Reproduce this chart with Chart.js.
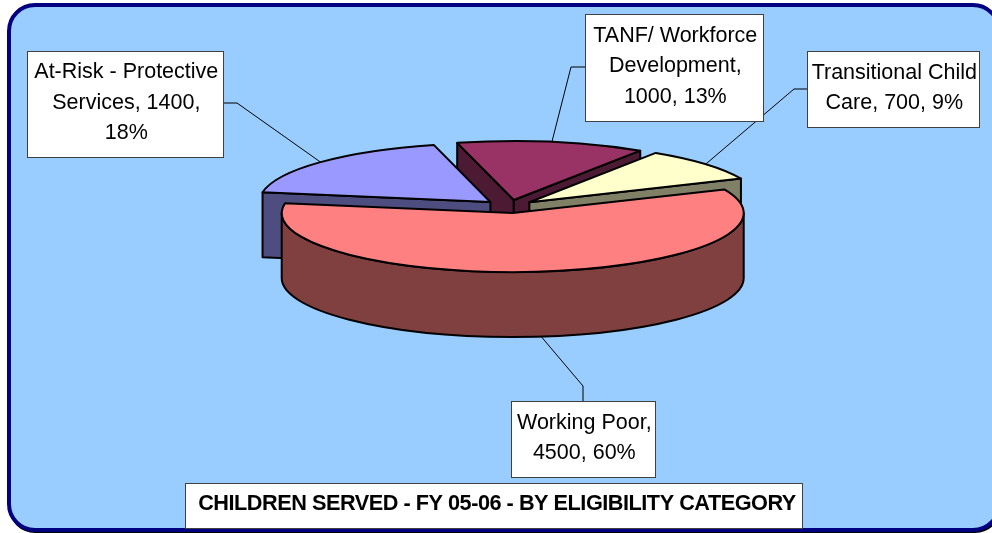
<!DOCTYPE html>
<html>
<head>
<meta charset="utf-8">
<title>Children served</title>
<style>
    html, body { margin: 0; padding: 0; background: #fff; }
    canvas { display: block; }
</style>
<script src="https://cdn.jsdelivr.net/npm/chart.js@4"></script>
</head>
<body>
<canvas id="grafico" width="992" height="533"></canvas>
<script>
// ---------- Dados ----------
const categories = ['At-Risk - Protective Services', 'TANF/ Workforce Development', 'Transitional Child Care', 'Working Poor'];
const values = [1400, 1000, 700, 4500];
const percents = ['18%', '13%', '9%', '60%'];
const topColors = ['#9999FF', '#993366', '#FFFFCC', '#FF8080'];
const sideColors = ['#4D4D80', '#4D1A33', '#808066', '#804040'];
const titleText = 'CHILDREN SERVED - FY 05-06 - BY ELIGIBILITY CATEGORY';

// caixas dos rótulos, uma por fatia (cotovelo = onde a linha dobra)
const labelLines = [
    ['At-Risk - Protective', 'Services, ' + values[0] + ',', percents[0]],
    ['TANF/ Workforce', 'Development,', values[1] + ', ' + percents[1]],
    ['Transitional Child', 'Care, ' + values[2] + ', ' + percents[2]],
    ['Working Poor,', values[3] + ', ' + percents[3]]
];
const labelBoxes = [
    { x: 27, y: 51, w: 196, h: 106, from: [223, 103], elbow: [237, 103] },
    { x: 585, y: 14, w: 178, h: 107, from: [585, 67], elbow: [571, 67] },
    { x: 807, y: 51, w: 172, h: 76, from: [807, 89], elbow: [794, 89] },
    { x: 511, y: 401, w: 144, h: 76, from: [583, 401], elbow: [583, 386] }
];

// "3D" do Excel: achatamento, explosão e altura da pizza
const squash = 0.255;
const explode = 26;
const depth = 65;
const drawOrder = [1, 2, 0, 3]; // de trás para a frente

function ponto(arc, ang, r) {
    const mid = (arc.startAngle + arc.endAngle) / 2;
    return {
        x: arc.x + explode * Math.cos(mid) + r * Math.cos(ang),
        y: arc.y + (explode * Math.sin(mid) + r * Math.sin(ang)) * squash
    };
}

function contorno(ctx) {
    ctx.lineWidth = 2;
    ctx.lineJoin = 'round';
    ctx.strokeStyle = '#000';
    ctx.stroke();
}

function paredeReta(ctx, arc, ang, color) {
    const a = ponto(arc, ang, 0);
    const b = ponto(arc, ang, arc.outerRadius);
    ctx.beginPath();
    ctx.moveTo(a.x, a.y);
    ctx.lineTo(b.x, b.y);
    ctx.lineTo(b.x, b.y + depth);
    ctx.lineTo(a.x, a.y + depth);
    ctx.closePath();
    ctx.fillStyle = color;
    ctx.fill();
    contorno(ctx);
}

// a parte curva só aparece na metade de baixo da elipse
function paredeCurva(ctx, arc, color) {
    const volta = Math.PI * 2;
    const ini = Math.max(arc.startAngle, volta) - volta;
    const fim = Math.min(arc.endAngle, volta + Math.PI) - volta;
    if (fim <= ini) return;
    const c = ponto(arc, 0, 0);
    const rx = arc.outerRadius, ry = rx * squash;
    ctx.beginPath();
    ctx.ellipse(c.x, c.y, rx, ry, 0, ini, fim);
    ctx.ellipse(c.x, c.y + depth, rx, ry, 0, fim, ini, true);
    ctx.closePath();
    ctx.fillStyle = color;
    ctx.fill();
    contorno(ctx);
}

function fatia(ctx, arc, i) {
    if (Math.cos(arc.startAngle) < 0) paredeReta(ctx, arc, arc.startAngle, sideColors[i]);
    if (Math.cos(arc.endAngle) > 0) paredeReta(ctx, arc, arc.endAngle, sideColors[i]);
    paredeCurva(ctx, arc, sideColors[i]);

    // topo: o preenchimento é o próprio arco da biblioteca, achatado
    const c = ponto(arc, 0, 0);
    ctx.save();
    ctx.translate(c.x, c.y);
    ctx.scale(1, squash);
    ctx.translate(-arc.x, -arc.y);
    arc.draw(ctx);
    ctx.beginPath();
    ctx.moveTo(arc.x, arc.y);
    ctx.arc(arc.x, arc.y, arc.outerRadius, arc.startAngle, arc.endAngle);
    ctx.closePath();
    ctx.restore(); // o traço fica fora da escala para não afinar
    contorno(ctx);
}

// ponta da linha do rótulo: meio do arco (a maior sai da parede da frente)
function pontaRotulo(arc) {
    const mid = (arc.startAngle + arc.endAngle) / 2;
    const p = ponto(arc, mid, arc.outerRadius);
    if (Math.sin(mid) > 0) p.y += depth;
    return p;
}

const pizza3d = {
    id: 'pizza3d',
    beforeDraw(chart) {
        const ctx = chart.ctx;
        ctx.save();
        ctx.fillStyle = '#000';
        ctx.beginPath();
        ctx.roundRect(9, 8, 992, 525, 26);
        ctx.fill();
        ctx.fillStyle = '#99CCFF';
        ctx.strokeStyle = '#000080';
        ctx.lineWidth = 4;
        ctx.beginPath();
        ctx.roundRect(9, 5, 990, 525, 26);
        ctx.fill();
        ctx.stroke();
        ctx.restore();
    },
    beforeDatasetDraw(chart, args) {
        const ctx = chart.ctx;
        ctx.save();
        drawOrder.forEach(i => fatia(ctx, args.meta.data[i], i));
        ctx.restore();
        return false; // já desenhado acima
    },
    afterDraw(chart) {
        const ctx = chart.ctx;
        const arcs = chart.getDatasetMeta(0).data;
        ctx.save();
        // linhas primeiro, as caixas ficam por cima
        ctx.lineWidth = 1;
        ctx.strokeStyle = '#000';
        labelBoxes.forEach((b, i) => {
            const fim = pontaRotulo(arcs[i]);
            ctx.beginPath();
            ctx.moveTo(b.from[0], b.from[1]);
            ctx.lineTo(b.elbow[0], b.elbow[1]);
            ctx.lineTo(fim.x, fim.y);
            ctx.stroke();
        });
        ctx.textAlign = 'center';
        ctx.textBaseline = 'middle';
        labelBoxes.forEach((b, i) => {
            ctx.fillStyle = '#fff';
            ctx.fillRect(b.x, b.y, b.w, b.h);
            ctx.strokeStyle = '#404040';
            ctx.strokeRect(b.x + 0.5, b.y + 0.5, b.w, b.h);
            ctx.fillStyle = '#000';
            ctx.font = '21.5px "Liberation Sans", Arial, sans-serif';
            const meio = b.y + b.h / 2 - 1;
            labelLines[i].forEach((linha, n) => {
                ctx.fillText(linha, b.x + b.w / 2 + 1.3, meio + (n - (labelLines[i].length - 1) / 2) * 30.5);
            });
        });
        // título em caixa branca embaixo
        ctx.fillStyle = '#fff';
        ctx.fillRect(185, 483, 617, 45);
        ctx.strokeStyle = '#404040';
        ctx.strokeRect(185.5, 483.5, 617, 45);
        ctx.fillStyle = '#000';
        ctx.font = 'bold 21.7px "Liberation Sans", Arial, sans-serif';
        ctx.letterSpacing = '-0.48px';
        ctx.fillText(titleText, 497, 504);
        ctx.restore();
    }
};

new Chart(document.getElementById('grafico').getContext('2d'), {
    type: 'pie',
    data: {
        labels: categories,
        datasets: [{
            data: values,
            backgroundColor: topColors,
            borderWidth: 0
        }]
    },
    options: {
        responsive: false,
        animation: false,
        rotation: 279.5,
        radius: 231,
        layout: { padding: { left: 27, bottom: 120 } },
        plugins: {
            legend: { display: false },
            tooltip: { enabled: false }
        }
    },
    plugins: [pizza3d]
});
</script>
</body>
</html>
